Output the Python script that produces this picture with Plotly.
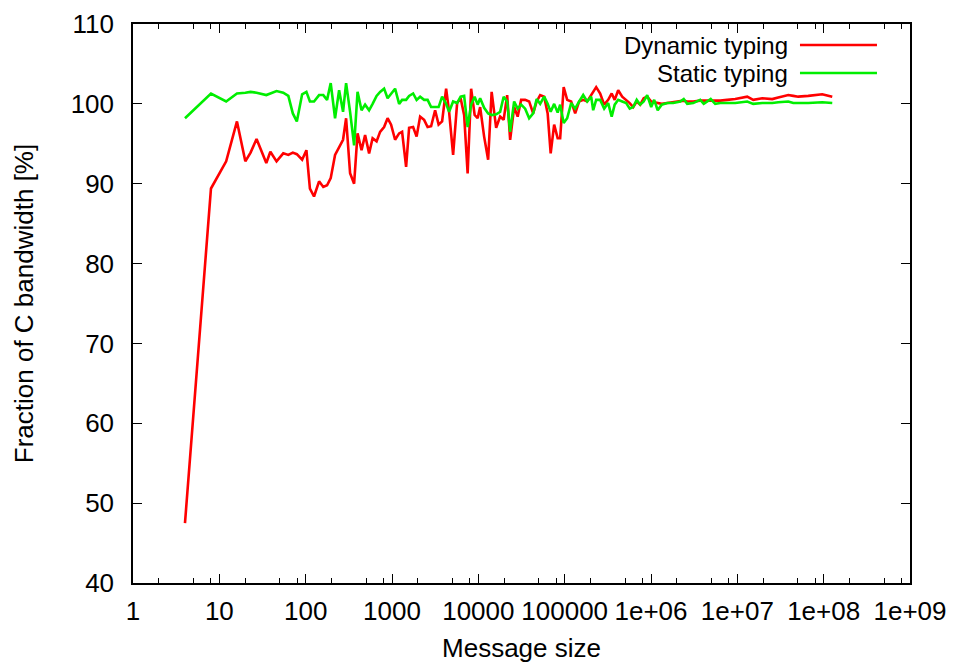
import plotly.graph_objects as go

# Message sizes (bytes)
sizes = [4, 8, 12, 16, 20, 23, 27, 35, 39, 46, 55, 63, 71, 79, 91, 102, 112, 125, 143, 160,
         177, 195, 219, 244, 271, 294, 327, 364, 399, 444, 488, 543, 596, 663, 728, 810,
         889, 976, 1086, 1209, 1309, 1457, 1578, 1756, 1928, 2117, 2355, 2585, 2839, 3158,
         3467, 3806, 4236, 4587, 5105, 5680, 6235, 6847, 7516, 8253, 9062, 9815, 10493,
         11673, 12991, 14261, 16083, 17886, 19646, 21570, 23363, 25986, 28542, 31333,
         34857, 38784, 43152, 47377, 52022, 57880, 63533, 68830, 75559, 82977, 88700,
         97365, 106900, 118940, 132350, 147230, 163870, 182300, 202770, 214000, 231740,
         257810, 286960, 319150, 350470, 379750, 416860, 463760, 515870, 566570, 621950,
         683030, 749890, 823070, 903600, 1005000, 1089000, 1196000, 1330000, 1541000,
         1808000, 2179000, 2393000, 2627000, 3083000, 3717000, 4080000, 4918000, 5545000,
         6337000, 7638000, 9456000, 13020000, 15290000, 19440000, 25380000, 29790000,
         38890000, 44440000, 50790000, 66310000, 96300000, 125800000]

dynamic_typing = [47.5, 89.4, 92.8, 97.8, 92.8, 93.9, 95.6, 92.6, 94.0, 92.8, 93.8, 93.6, 93.9,
                  93.7, 93.0, 94.2, 89.4, 88.4, 90.3, 89.6, 89.8, 90.7, 93.6, 94.6, 95.5, 98.2,
                  91.3, 90.0, 96.3, 94.2, 96.1, 93.8, 95.7, 95.3, 96.5, 97.1, 98.2, 97.4, 95.5,
                  96.3, 96.5, 92.1, 97.0, 97.1, 95.9, 98.4, 98.0, 97.1, 97.2, 99.2, 97.4, 97.8,
                  101.9, 99.0, 93.6, 100.1, 100.7, 98.6, 91.3, 101.9, 98.6, 98.2, 99.6, 95.9,
                  93.0, 101.5, 97.0, 98.4, 98.0, 101.1, 95.5, 99.6, 98.4, 100.5, 100.5, 100.3,
                  98.8, 100.3, 101.1, 100.9, 98.8, 93.8, 97.4, 95.7, 95.7, 102.1, 100.5, 100.3,
                  98.8, 100.3, 100.5, 100.3, 101.1, 101.5, 102.1, 101.3, 99.9, 100.5, 101.3,
                  100.5, 101.7, 100.9, 100.5, 100.1, 99.6, 100.3, 99.9, 100.7, 100.9, 100.3,
                  100.2, 100.1, 100.0, 100.1, 100.2, 100.4, 100.4, 100.3, 100.3, 100.4, 100.4,
                  100.4, 100.4, 100.4, 100.5, 100.6, 100.9, 100.5, 100.7, 100.6, 100.8, 101.1,
                  101.0, 100.9, 101.0, 101.2, 100.9]

static_typing = [98.2, 101.3, 100.3, 101.3, 101.4, 101.5, 101.4, 101.1, 101.3, 101.6, 101.4,
                 101.0, 98.8, 97.8, 101.2, 101.5, 100.3, 100.3, 101.1, 101.1, 100.5, 102.6,
                 98.2, 101.7, 99.0, 102.6, 99.0, 94.8, 101.5, 99.2, 99.9, 99.2, 100.0, 101.0,
                 101.5, 101.9, 100.7, 101.3, 101.9, 100.0, 100.5, 100.5, 101.0, 101.3, 100.5,
                 100.9, 100.5, 100.5, 99.6, 99.6, 99.6, 100.9, 100.0, 99.0, 100.3, 100.1,
                 100.9, 101.0, 97.1, 99.9, 100.9, 99.9, 100.7, 99.5, 98.8, 98.6, 98.7, 99.0,
                 100.9, 100.3, 96.5, 100.3, 99.4, 99.9, 99.4, 98.2, 98.8, 100.6, 100.0, 100.9,
                 100.0, 99.0, 100.0, 98.9, 99.9, 97.6, 98.2, 100.1, 99.4, 100.3, 101.1, 100.3,
                 100.9, 99.2, 100.5, 100.5, 99.4, 100.1, 98.4, 99.9, 100.5, 100.3, 100.1, 99.4,
                 99.6, 100.5, 99.9, 100.3, 101.1, 99.6, 100.5, 99.2, 99.9, 100.1, 100.1, 100.3,
                 100.6, 100.0, 100.1, 100.5, 100.0, 100.6, 100.0, 100.1, 100.1, 100.1, 100.3,
                 100.0, 100.1, 100.1, 100.2, 100.3, 100.1, 100.1, 100.1, 100.2, 100.1]

series_names = ["Dynamic typing", "Static typing"]
series_colors = ["#ff0000", "#00ee00"]

x_tickvals = [1, 10, 100, 1000, 10000, 100000, 1e6, 1e7, 1e8, 1e9]
x_ticktext = ["1", "10", "100", "1000", "10000", "100000", "1e+06", "1e+07", "1e+08", "1e+09"]
y_tickvals = [40, 50, 60, 70, 80, 90, 100, 110]

FONT = "Liberation Sans, Arial, Helvetica, sans-serif"
FS = 26
KEY_FS = 24

fig = go.Figure()
for name, vals, col in zip(series_names, [dynamic_typing, static_typing], series_colors):
    fig.add_trace(go.Scatter(x=sizes, y=vals, mode="lines", name=name,
                             line=dict(color=col, width=2.6), showlegend=False))

minor_vals = [m * 10 ** d for d in range(0, 9) for m in (2, 5, 8)]

# page body has an 8px margin, so the figure is sized to fit the window
fig.update_layout(
    width=948, height=659,
    margin=dict(l=125, r=46, t=16, b=84),
    paper_bgcolor="white", plot_bgcolor="white",
    font=dict(family=FONT, size=FS, color="#000000"),
    xaxis=dict(type="log", range=[0, 9], tickvals=x_tickvals, ticktext=x_ticktext,
               automargin=False,
               ticks="inside", ticklen=9, tickwidth=1.3, tickcolor="#000",
               showline=True, linecolor="#000", linewidth=1.5, mirror="allticks",
               showgrid=False, zeroline=False,
               minor=dict(tickvals=minor_vals, ticks="inside", ticklen=5,
                          tickcolor="#000", tickwidth=1.2, showgrid=False),
               ticklabelstandoff=4,
               title=dict(text="Message size", standoff=14, font=dict(size=FS))),
    yaxis=dict(range=[40, 110], tickvals=y_tickvals, automargin=False,
               ticks="inside", ticklen=9, tickwidth=1.3, tickcolor="#000",
               showline=True, linecolor="#000", linewidth=1.5, mirror="allticks",
               showgrid=False, zeroline=False, ticklabelstandoff=12,
               title=dict(text="Fraction of C bandwidth [%]", standoff=30, font=dict(size=FS))),
)

# gnuplot-style key: text on left, line sample on right
key_y = [0.9624, 0.9123]
for name, col, ky in zip(series_names, series_colors, key_y):
    fig.add_annotation(x=0.8456, y=ky, xref="paper", yref="paper", text=name,
                       showarrow=False, xanchor="right", yanchor="middle",
                       font=dict(family=FONT, size=KEY_FS, color="#000"))
    fig.add_shape(type="line", xref="paper", yref="paper", x0=0.8584, x1=0.9575,
                  y0=ky, y1=ky, line=dict(color=col, width=2.6))

fig.write_html("out.html")
